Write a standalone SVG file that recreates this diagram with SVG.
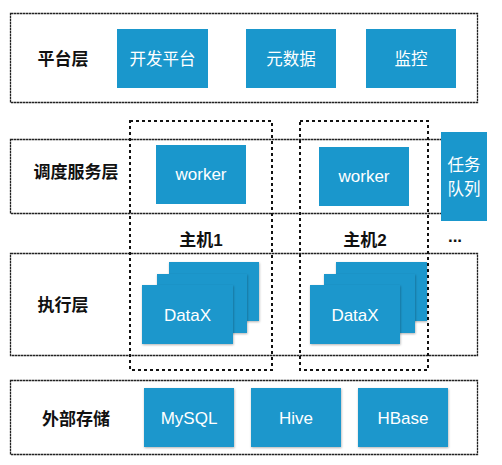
<svg xmlns="http://www.w3.org/2000/svg" width="502" height="465" viewBox="0 0 502 465">
<defs>
<filter id="sh" x="-10%" y="-10%" width="130%" height="130%">
<feDropShadow dx="0.5" dy="1" stdDeviation="0.8" flood-color="#000" flood-opacity="0.3"/>
</filter>
</defs>
<style>
.layer{fill:#fff;stroke:#222;stroke-width:1.3;stroke-dasharray:2.5 0.5}
.host{fill:none;stroke:#111;stroke-width:2;stroke-dasharray:3 3}
.box{fill:#1a97cc}
.card{fill:#1a97cc;filter:url(#sh)}
.lbl{font-family:"Liberation Sans","Noto Sans CJK SC",sans-serif;font-size:17px;font-weight:bold;fill:#111;text-anchor:middle;dominant-baseline:central}
.wt{font-family:"Liberation Sans","Noto Sans CJK SC",sans-serif;font-size:16.5px;fill:#fff;text-anchor:middle;dominant-baseline:central}
.en{font-size:17px}
</style>
<rect width="502" height="465" fill="#fff"/>
<g id="layer-platform">
<rect class="layer" x="10.5" y="13.5" width="467" height="89"/>
<text class="lbl" x="63" y="59">平台层</text>
</g>
<g id="devplatform"><rect class="box" x="117" y="29" width="91" height="59"/><text class="wt" x="162.5" y="58.5">开发平台</text></g>
<g id="metadata"><rect class="box" x="246" y="29" width="90" height="59"/><text class="wt" x="291" y="58.5">元数据</text></g>
<g id="monitor"><rect class="box" x="366" y="29" width="90" height="59"/><text class="wt" x="411" y="58.5">监控</text></g>
<g id="layer-sched">
<rect class="layer" x="10.5" y="139.5" width="467" height="74"/>
<text class="lbl" x="76" y="172">调度服务层</text>
</g>
<g id="layer-exec">
<rect class="layer" x="10.5" y="253.5" width="467" height="102"/>
<text class="lbl" x="63" y="305">执行层</text>
</g>
<g id="layer-ext">
<rect class="layer" x="10.5" y="380.5" width="467" height="74"/>
<text class="lbl" x="76" y="419">外部存储</text>
</g>
<g id="host1">
<rect class="host" x="130" y="121" width="142" height="249"/>
<text class="lbl" x="201" y="240">主机1</text>
</g>
<g id="host2">
<rect class="host" x="300" y="121" width="128" height="249"/>
<text class="lbl" x="365" y="240">主机2</text>
</g>
<g id="worker1"><rect class="box" x="156" y="145" width="90" height="59"/><text class="wt en" x="201" y="174.5">worker</text></g>
<g id="worker2"><rect class="box" x="319" y="147" width="90" height="59"/><text class="wt en" x="364" y="176.5">worker</text></g>
<g id="queue"><rect class="box" x="441" y="132" width="46" height="89"/><text class="wt" x="464" y="165">任务</text><text class="wt" x="464" y="189">队列</text></g>
<g id="more"><text class="lbl" x="455" y="236" style="font-weight:900">...</text></g>
<g id="datax1">
<rect class="card" x="169" y="262" width="90" height="59"/>
<rect class="card" x="157" y="274" width="90" height="59"/>
<rect class="card" x="142" y="285" width="91" height="59"/>
<text class="wt en" x="187.5" y="315">DataX</text>
</g>
<g id="datax2">
<rect class="card" x="336" y="262" width="91" height="59"/>
<rect class="card" x="324" y="274" width="91" height="59"/>
<rect class="card" x="310" y="285" width="90" height="59"/>
<text class="wt en" x="355" y="315">DataX</text>
</g>
<g id="mysql"><rect class="card" x="144" y="388" width="90" height="59"/><text class="wt en" x="189" y="418">MySQL</text></g>
<g id="hive"><rect class="card" x="251" y="388" width="90" height="59"/><text class="wt en" x="296" y="418">Hive</text></g>
<g id="hbase"><rect class="card" x="358" y="388" width="90" height="59"/><text class="wt en" x="403" y="418">HBase</text></g>
<g id="connectors"></g>
</svg>
